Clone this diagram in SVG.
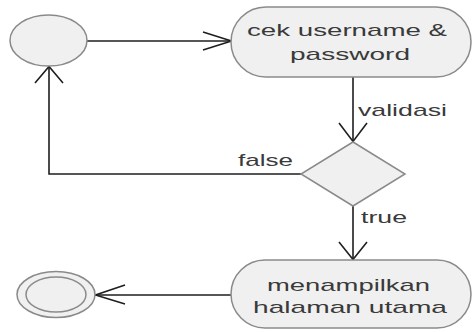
<svg xmlns="http://www.w3.org/2000/svg" width="473" height="332" viewBox="0 0 473 332">
<style>
.node{fill:#f0f0f0;stroke:#8a8a8a;stroke-width:1.5}
.lbl{font-family:"Liberation Sans",Arial,sans-serif;font-size:17px;fill:#3a3a3a}
.edge{fill:none;stroke:#1e1e1e;stroke-width:1.6}
</style>
<rect width="473" height="332" fill="#ffffff"/>
<g id="connectors">
  <path class="edge" d="M87 41 H231"/>
  <path class="edge" d="M203 32 L231.5 41 L203 50"/>
  <path class="edge" d="M353 77 V142"/>
  <path class="edge" d="M339 123 L353 141.5 L367 123"/>
  <path class="edge" d="M301 174 H49 V66"/>
  <path class="edge" d="M35 83 L49 66.5 L63 83"/>
  <path class="edge" d="M353 206 V260"/>
  <path class="edge" d="M339 242 L353 259.5 L367 242"/>
  <path class="edge" d="M231 295 H95"/>
  <path class="edge" d="M125 285 L95.5 295 L125 304"/>
  <text class="lbl" x="358" y="116" textLength="89" lengthAdjust="spacingAndGlyphs">validasi</text>
  <text class="lbl" x="238" y="166" textLength="55" lengthAdjust="spacingAndGlyphs">false</text>
  <text class="lbl" x="361" y="223" textLength="46" lengthAdjust="spacingAndGlyphs">true</text>
</g>
<g id="start">
  <ellipse class="node" cx="48.5" cy="40.5" rx="38.5" ry="25.5"/>
</g>
<g id="cek">
  <rect class="node" x="231" y="7" width="240" height="70" rx="35" ry="35"/>
  <text class="lbl" x="247" y="36" textLength="200" lengthAdjust="spacingAndGlyphs">cek username &amp;</text>
  <text class="lbl" x="290" y="60" textLength="120" lengthAdjust="spacingAndGlyphs">password</text>
</g>
<g id="decision">
  <polygon class="node" points="353,142 405,174 353,206 301,174"/>
</g>
<g id="tampil">
  <rect class="node" x="231" y="260" width="240" height="68" rx="34" ry="34"/>
  <text class="lbl" x="267" y="291" textLength="163" lengthAdjust="spacingAndGlyphs">menampilkan</text>
  <text class="lbl" x="253" y="313" textLength="194" lengthAdjust="spacingAndGlyphs">halaman utama</text>
</g>
<g id="end">
  <ellipse class="node" cx="56" cy="294.5" rx="39" ry="23"/>
  <ellipse class="node" cx="56" cy="294.5" rx="30" ry="17.5"/>
</g>
</svg>
